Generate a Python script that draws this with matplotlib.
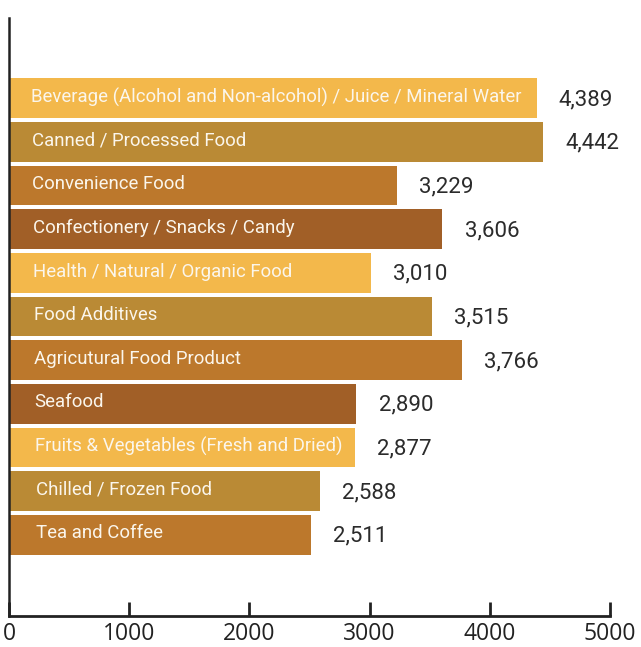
import matplotlib
matplotlib.use("Agg")
import matplotlib.pyplot as plt

categories = [
    "Beverage (Alcohol and Non-alcohol) / Juice / Mineral Water",
    "Canned / Processed Food",
    "Convenience Food",
    "Confectionery / Snacks / Candy",
    "Health / Natural / Organic Food",
    "Food Additives",
    "Agricutural Food Product",
    "Seafood",
    "Fruits & Vegetables (Fresh and Dried)",
    "Chilled / Frozen Food",
    "Tea and Coffee",
]
values = [4389, 4442, 3229, 3606, 3010, 3515, 3766, 2890, 2877, 2588, 2511]
palette = ["#F3B84B", "#BA8A35", "#BC782C", "#A15F27"]
xticks = [0, 1000, 2000, 3000, 4000, 5000]

plt.rcParams['font.family'] = ['Roboto', 'DejaVu Sans']

fig = plt.figure(figsize=(6.41, 6.47), dpi=100)
ax = fig.add_axes([9/641, 1 - 616/647, (610-9)/641, (616-18)/647])

n = len(categories)
ypos = list(range(n))
colors = [palette[i % len(palette)] for i in range(n)]
ax.barh(ypos, values, height=0.91, color=colors, zorder=2)

for i, (cat, v) in enumerate(zip(categories, values)):
    ax.annotate(cat, xy=(0, i), xytext=(16 + i * 0.35, 1), textcoords="offset points",
                ha="left", va="center", color="#FBF6EC", fontsize=13.4)
    ax.annotate(f"{v:,}", xy=(v, i), xytext=(16, -1), textcoords="offset points",
                ha="left", va="center", color="#2b2b2b", fontsize=16)

ax.set_xlim(0, 5000)
ax.set_ylim(n - 1 + 1.86, -1.84)
ax.set_xticks(xticks)
ax.set_xticklabels([str(t) for t in xticks], fontsize=16.5, color="#222222",
                   family=['Open Sans', 'DejaVu Sans'])
ax.set_yticks([])
ax.tick_params(axis="x", direction="in", length=10, width=2, color="#222222", pad=4)
for s in ["top", "right"]:
    ax.spines[s].set_visible(False)
ax.spines["left"].set_linewidth(1.8)
ax.spines["bottom"].set_linewidth(2)
ax.spines["left"].set_color("#222222")
ax.spines["bottom"].set_color("#222222")

fig.savefig("out.png", dpi=100)
